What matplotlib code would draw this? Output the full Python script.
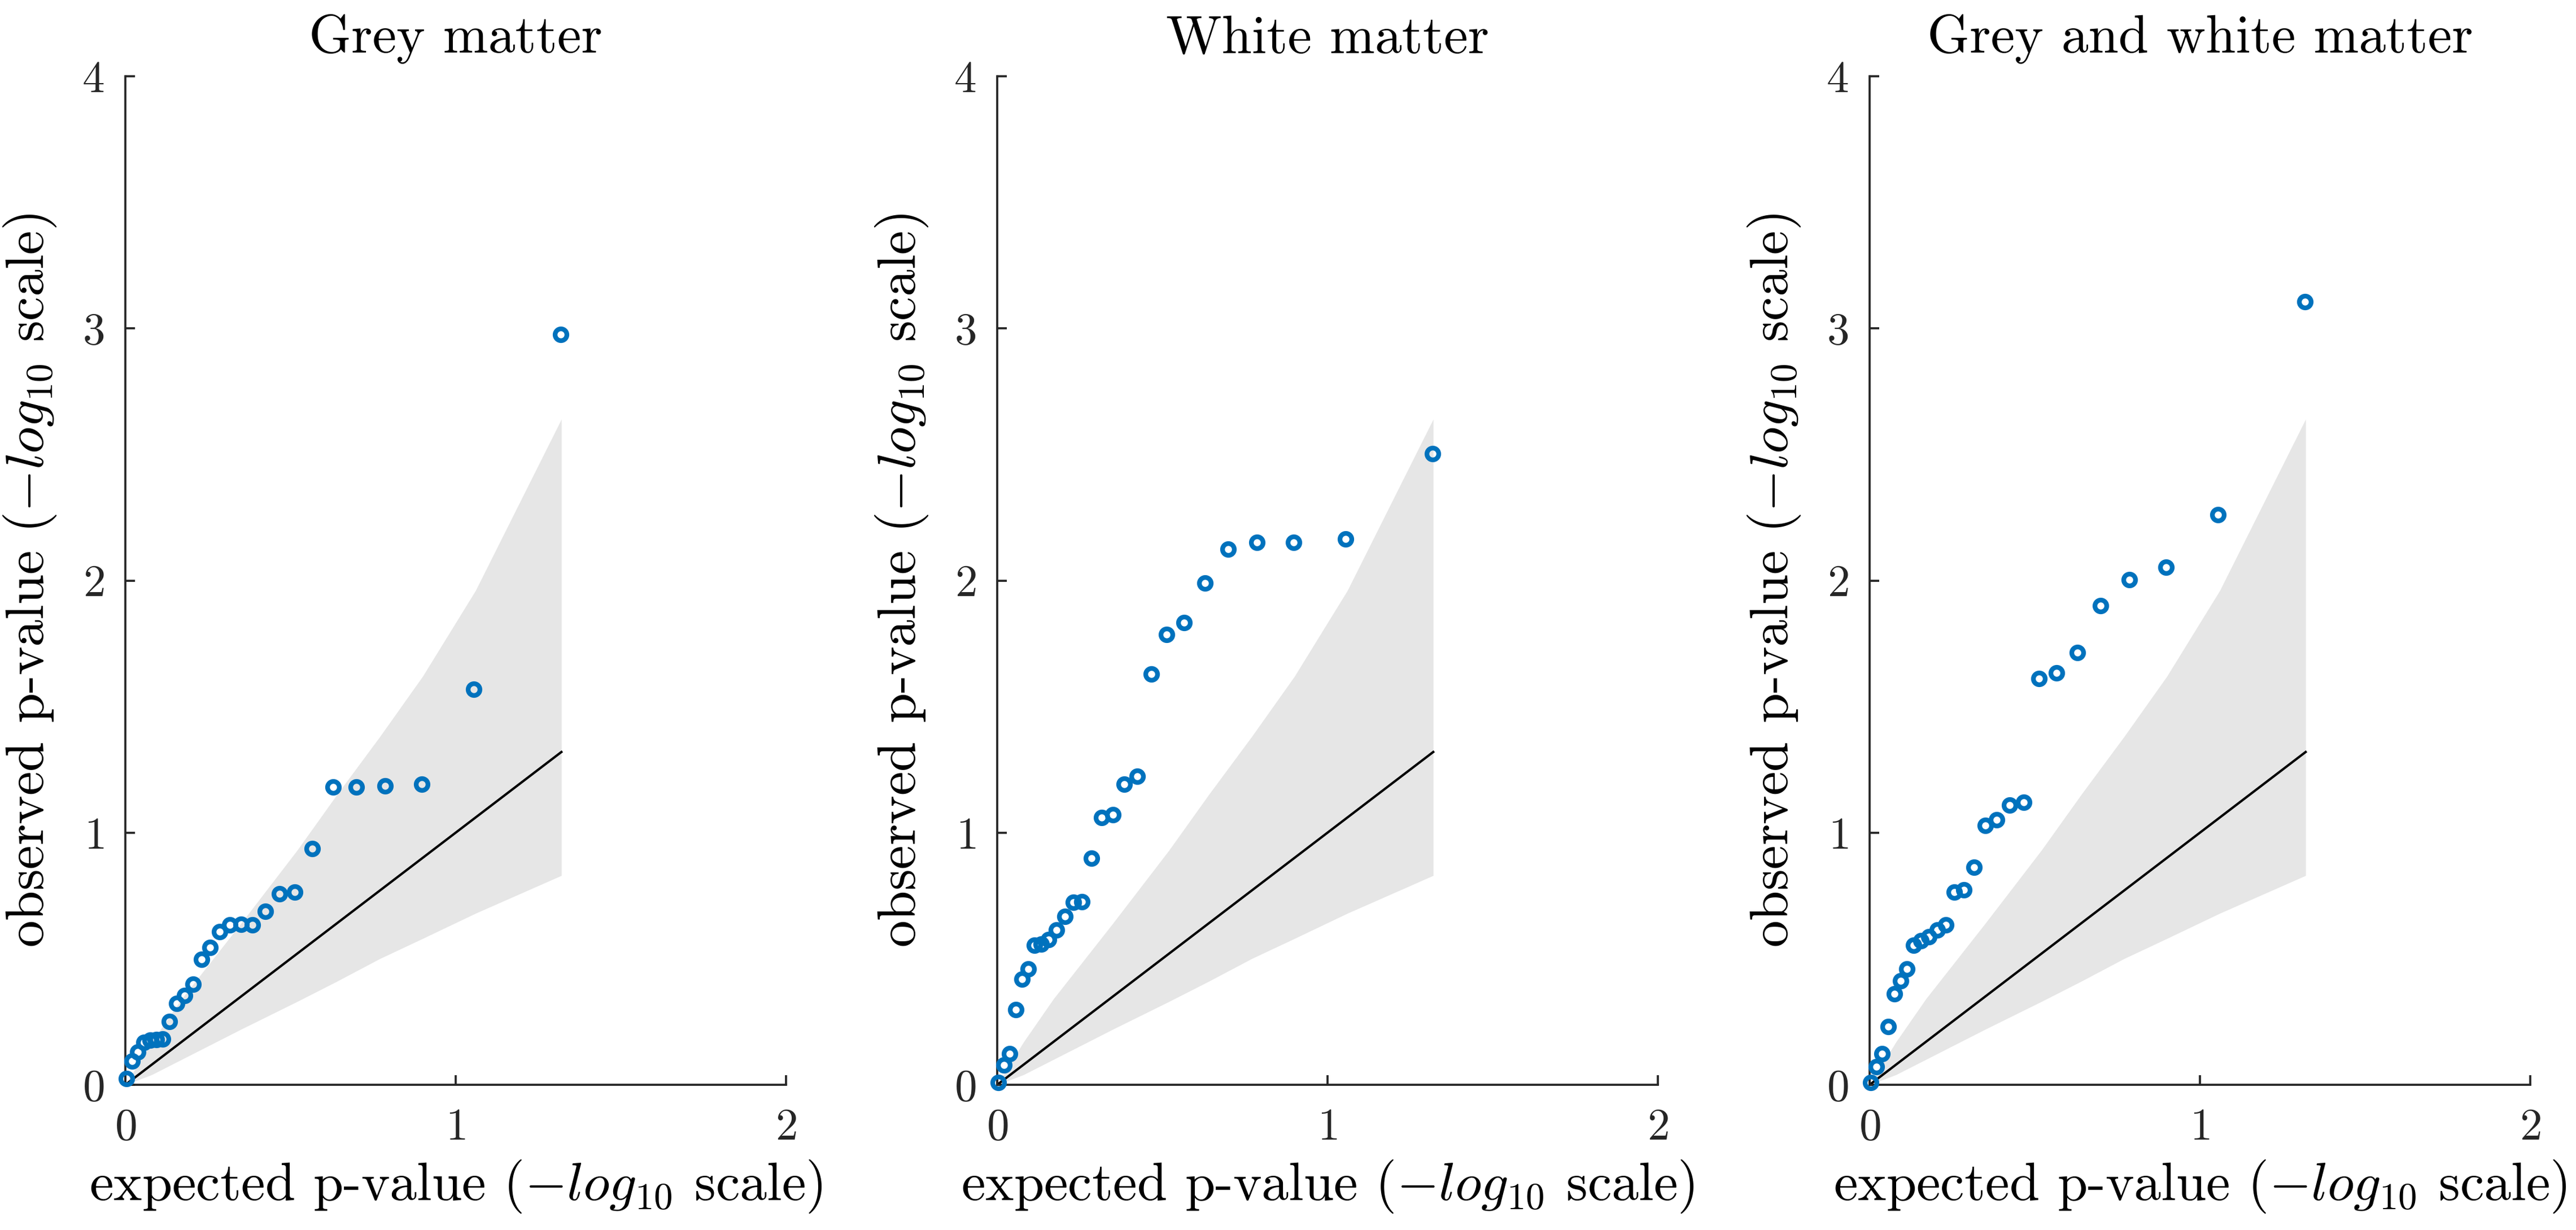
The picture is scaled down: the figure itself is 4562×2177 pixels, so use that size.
import matplotlib
matplotlib.use("Agg")
import matplotlib.pyplot as plt

plt.rcParams['font.family'] = 'serif'
plt.rcParams['font.serif'] = ['cmr10', 'DejaVu Serif']
plt.rcParams['mathtext.fontset'] = 'cm'
plt.rcParams['axes.formatter.use_mathtext'] = True

# expected -log10 p (shared by all panels)
expected = [1.318, 1.054, 0.898, 0.786, 0.699, 0.629, 0.566, 0.513, 0.467,
            0.424, 0.384, 0.350, 0.316, 0.286, 0.256, 0.230, 0.205, 0.180,
            0.156, 0.134, 0.113, 0.094, 0.075, 0.056, 0.038, 0.020, 0.003]

grey = [2.975, 1.568, 1.193, 1.186, 1.180, 1.180, 0.937, 0.764, 0.757,
        0.687, 0.635, 0.636, 0.635, 0.607, 0.545, 0.497, 0.400, 0.354,
        0.322, 0.250, 0.181, 0.179, 0.176, 0.168, 0.130, 0.095, 0.025]

white = [2.503, 2.165, 2.152, 2.152, 2.124, 1.991, 1.832, 1.786, 1.630,
         1.224, 1.193, 1.071, 1.059, 0.898, 0.727, 0.724, 0.668, 0.615,
         0.575, 0.559, 0.553, 0.460, 0.419, 0.298, 0.124, 0.078, 0.009]

grey_white = [3.106, 2.261, 2.053, 2.003, 1.901, 1.714, 1.634, 1.612, 1.121,
              1.109, 1.050, 1.028, 0.863, 0.773, 0.764, 0.634, 0.615, 0.587,
              0.571, 0.553, 0.460, 0.413, 0.360, 0.230, 0.124, 0.071, 0.009]

# null confidence band
band_x = [0, 0.08, 0.17, 0.35, 0.52, 0.64, 0.77, 0.90, 1.06, 1.32]
band_hi = [0, 0.17, 0.34, 0.64, 0.93, 1.15, 1.38, 1.62, 1.96, 2.64]
band_lo = [0, 0.04, 0.10, 0.22, 0.33, 0.41, 0.50, 0.58, 0.68, 0.83]

titles = ['Grey matter', 'White matter', 'Grey and white matter']
observed = [grey, white, grey_white]

W, H = 4562, 2177
fig = plt.figure(figsize=(W / 300, H / 300), dpi=300)
lefts = [222, 1766, 3311]
axc = '#262626'

for left, title, obs in zip(lefts, titles, observed):
    ax = fig.add_axes([left / W, 1 - 1920 / H, 1170 / W, 1785 / H])
    ax.fill_between(band_x, band_lo, band_hi, color='#e6e6e6', lw=0)
    ax.plot([0, band_x[-1]], [0, band_x[-1]], color='black', lw=1.0)
    ax.plot(expected, obs, 'o', ms=5.0, mfc='none', mec='#0072BD', mew=2.0,
            clip_on=False, zorder=5)
    ax.set_xlim(0, 2)
    ax.set_ylim(0, 4)
    ax.set_xticks([0, 1, 2])
    ax.set_yticks([0, 1, 2, 3, 4])
    for s in ['top', 'right']:
        ax.spines[s].set_visible(False)
    for s in ['left', 'bottom']:
        ax.spines[s].set_color(axc)
        ax.spines[s].set_linewidth(0.9)
    ax.tick_params(direction='in', length=4, width=0.9, color=axc,
                   labelcolor=axc, labelsize=19)
    ax.tick_params(axis='x', pad=10)
    ax.tick_params(axis='y', pad=9)
    ax.set_title(title, fontsize=23, pad=10)
    ax.set_xlabel(r'expected p-value ($-log_{10}$ scale)', fontsize=23,
                  labelpad=4)
    ax.set_ylabel(r'observed p-value ($-log_{10}$ scale)', fontsize=23,
                  labelpad=10)

fig.savefig('out.png', dpi=300, facecolor='white')
